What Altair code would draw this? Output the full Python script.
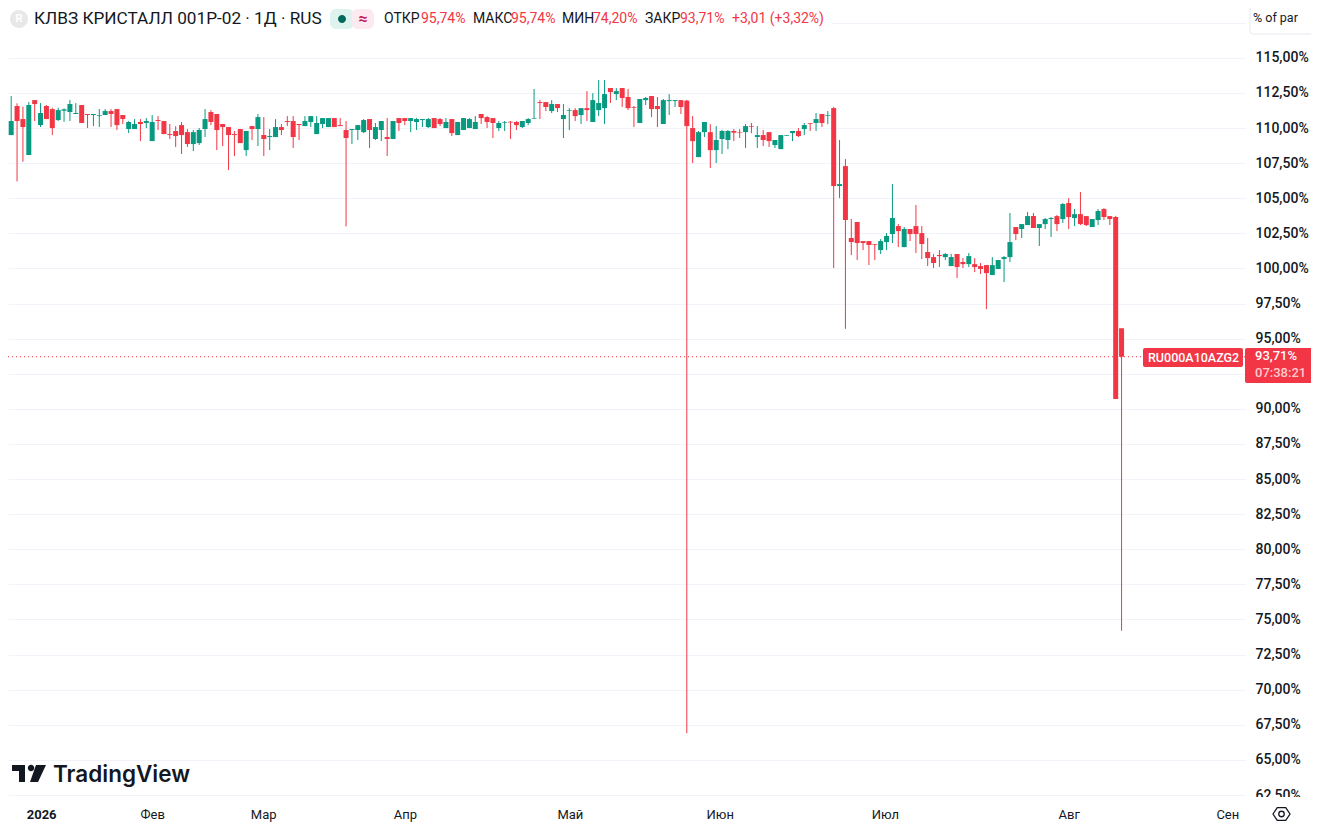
import altair as alt
import pandas as pd

high = [
112.35,112.28,111.76,111.52,111.85,111.99,111.78,111.64,111.45,111.45,
111.40,111.99,111.78,111.64,111.00,111.00,111.35,111.35,111.35,111.35,
110.93,110.50,110.64,110.64,110.71,110.93,110.85,110.50,110.29,110.14,
110.43,109.93,109.86,110.00,111.35,111.28,111.00,110.29,110.07,109.79,
109.93,109.79,110.14,111.00,110.78,109.93,110.64,110.29,110.85,110.85,
110.29,110.85,110.85,110.85,110.71,110.71,110.71,110.71,110.50,109.93,
110.21,110.64,110.64,110.36,110.50,110.71,110.50,110.71,110.71,110.71,
110.71,110.64,110.71,110.71,110.71,110.71,110.64,110.43,110.71,110.71,
110.85,111.00,110.85,110.71,110.50,110.50,110.50,110.50,110.50,110.71,
112.78,111.99,111.85,111.99,111.71,111.71,111.42,111.42,111.42,112.63,
112.49,113.42,113.42,112.85,112.85,112.85,112.78,111.57,112.07,112.21,
112.28,112.21,112.07,112.42,111.99,111.99,112.00,110.85,109.79,110.43,
110.28,110.14,109.86,109.86,109.93,109.93,110.28,110.36,110.14,109.86,
109.71,109.15,109.50,109.50,109.79,110.00,110.36,110.36,111.07,111.00,
111.21,111.50,109.15,107.79,103.52,103.31,101.95,101.95,101.74,102.09,
102.52,106.01,103.16,102.95,102.81,104.52,103.02,102.17,101.03,101.31,
101.10,101.03,101.03,100.74,101.10,100.74,100.39,100.24,100.81,100.60,
100.88,103.95,102.95,103.16,104.02,103.95,103.16,103.59,103.66,103.80,
104.66,105.01,104.23,105.44,103.73,103.52,104.23,104.30,103.73,103.75,
95.74]
low = [
110.05,109.50,106.20,107.60,108.08,110.50,110.07,110.64,109.50,110.50,
110.45,110.50,111.00,110.36,110.00,110.14,110.07,110.93,110.07,109.86,
110.29,109.64,109.93,109.07,110.00,109.07,109.86,109.57,109.22,108.65,
108.15,108.65,108.36,108.79,109.36,110.21,108.43,108.72,107.01,108.01,
108.93,108.01,109.15,108.72,108.01,108.43,109.36,109.50,110.14,108.58,
109.15,110.14,110.07,109.57,110.00,110.07,110.07,110.14,103.00,108.86,
109.15,109.64,108.58,109.15,109.07,108.01,109.22,109.79,110.21,109.71,
109.86,110.07,110.00,110.00,110.14,110.00,109.43,109.50,109.86,110.00,
109.93,110.29,110.00,109.29,109.79,109.79,109.22,109.86,110.00,110.21,
110.64,110.64,111.21,111.07,111.14,109.29,109.86,110.50,110.29,110.50,
110.43,110.85,110.29,111.78,111.99,111.50,111.28,110.07,110.36,111.64,
110.78,110.07,110.29,110.93,111.50,111.00,66.90,107.51,107.93,109.36,
107.15,107.51,108.15,108.50,109.07,109.29,108.58,109.64,108.58,108.72,
108.65,108.58,108.50,109.45,109.07,109.36,109.50,109.79,109.79,110.07,
110.28,100.03,105.01,95.70,100.95,100.60,101.31,100.24,100.60,101.03,
101.31,101.81,101.52,101.52,101.95,101.10,100.67,100.17,100.03,100.10,
100.60,100.17,99.32,100.03,100.10,99.74,99.60,97.11,99.53,99.96,
99.03,100.46,102.02,102.17,103.09,102.88,101.60,102.81,102.24,102.66,
103.23,102.81,103.02,103.09,103.02,102.95,103.09,103.45,103.09,90.70,
74.20]
body_top = [
110.93,110.50,111.57,110.64,111.64,111.99,111.07,111.57,111.35,111.28,
111.33,111.71,111.07,111.64,111.00,111.00,110.93,111.21,111.21,111.35,
110.93,110.43,110.29,110.43,110.50,110.43,110.57,110.50,109.57,109.79,
110.21,109.71,109.71,109.86,110.64,111.14,111.00,110.29,110.07,109.57,
109.93,109.79,110.14,110.78,109.50,109.43,110.07,110.07,110.50,110.50,
110.29,110.50,110.85,110.36,110.71,110.71,110.71,110.21,109.86,109.93,
110.21,110.57,110.64,110.07,110.50,109.36,110.50,110.71,110.71,110.71,
110.64,110.64,110.64,110.71,110.64,110.43,110.64,110.43,110.71,110.64,
110.43,111.00,110.78,110.71,110.36,110.43,110.45,110.43,110.50,110.64,
110.71,111.85,111.85,111.71,111.71,110.93,111.28,111.28,111.42,111.42,
111.99,111.78,112.42,112.85,112.63,112.85,112.21,111.50,112.07,112.14,
112.28,111.57,111.99,111.99,111.99,111.99,111.95,110.00,109.71,110.43,
109.71,109.15,109.79,109.79,109.79,109.71,110.14,110.14,109.50,109.50,
109.71,109.15,109.50,109.50,109.79,109.79,110.21,110.36,110.64,111.00,
110.93,111.42,106.01,107.29,102.17,103.31,101.95,101.95,101.74,101.95,
102.31,103.59,103.02,102.81,102.81,103.02,102.52,101.17,100.81,100.96,
101.03,100.81,101.03,100.46,100.88,100.31,100.17,100.24,100.24,100.60,
100.81,101.88,102.95,103.16,103.73,103.73,103.16,103.52,103.59,103.73,
104.59,104.66,103.87,103.87,103.73,103.52,104.09,104.23,103.73,103.66,
95.74]
body_bottom = [
110.64,109.50,110.50,110.07,108.08,111.71,110.21,110.64,110.00,110.57,
111.23,111.14,111.00,110.36,110.93,110.93,110.88,110.93,111.00,110.21,
110.64,109.93,109.93,110.29,110.36,109.07,110.50,109.57,109.50,109.43,
109.50,108.86,108.86,108.93,109.93,110.43,109.86,110.07,109.50,109.50,
108.93,108.43,109.93,109.93,109.22,109.36,109.36,109.86,110.43,109.36,
110.21,110.14,110.43,109.57,110.29,110.07,110.07,110.14,109.29,109.86,
109.86,109.71,109.86,109.22,109.86,109.22,109.22,110.36,110.50,110.50,
110.43,110.57,110.07,110.00,110.29,110.00,109.64,109.50,109.86,110.00,
109.93,110.71,110.43,110.36,110.00,110.38,110.40,110.21,110.07,110.36,
110.67,111.78,111.50,111.21,111.42,110.64,111.23,110.85,110.93,111.28,
110.43,111.28,111.42,112.56,112.42,112.14,111.42,111.45,110.36,111.99,
111.35,111.35,110.29,111.92,111.92,111.50,110.14,109.07,107.93,109.71,
108.43,108.43,109.22,109.15,109.67,109.67,109.71,110.09,109.36,109.15,
109.07,108.79,108.50,109.45,109.64,109.43,109.93,110.31,110.36,110.36,
110.88,105.87,105.87,103.45,101.88,101.81,101.81,101.67,101.69,101.31,
101.88,102.45,102.66,101.52,102.45,102.45,101.74,100.74,100.39,100.88,
100.81,100.17,100.10,100.31,100.31,100.10,99.96,99.67,99.53,99.96,
100.67,100.81,102.45,102.81,103.09,102.88,102.88,103.16,103.52,103.16,
103.52,103.66,103.59,103.16,103.09,102.95,103.45,103.66,103.52,90.70,
93.71]
direction = list(
"GGRRGRGRRG" "GGGRRGGGRR" "RGGRGGRRRR" "RRGGGRRRRR" "RGRGRGGRRR"
"RGGGGGRRRG" "GGRGGRGRRG" "GGGRRGRGGG" "GRRRGGRRGG" "GRRGRGGRGR"
"GGGRGRRRGG" "RRGGGRRRGG" "RGGGRRGRGR" "RGGGGRGRGR" "GRGRRRRRRG"
"GGRGRRRRRR" "GGRRGRRRGG" "GGRGGRGGGR" "GRGRRGGRRR" "R")

month_positions = [6.1, 25, 43.9, 68, 96.1, 121.6, 149.7, 181, 208]
month_labels = ["2026", "Фев", "Мар", "Апр", "Май", "Июн", "Июл", "Авг", "Сен"]
price_ticks = [62.5 + 2.5 * i for i in range(23)]
last_price = 93.71

GREEN = "#089981"
RED = "#F23645"
INK = "#131722"
FONT = "Roboto"
OX, OY = 8, 8  # page margin: reference pixel -> chart pixel

df = pd.DataFrame({"k": list(range(len(high))), "high": high, "low": low,
                   "top": body_top, "bottom": body_bottom, "dir": direction})

PW, PH = 1237, 787
x_scale = alt.Scale(domain=[0.46, 211.01], nice=False, zero=False, padding=0)
y_scale = alt.Scale(domain=[62.5, 118.55], nice=False, zero=False, padding=0)
color = alt.Color("dir:N", scale=alt.Scale(domain=["G", "R"], range=[GREEN, RED]), legend=None)

mapping = "{" + ",".join(f"'{p}':'{l}'" for p, l in zip(month_positions, month_labels)) + "}"
x_axis = alt.Axis(values=month_positions, title=None, grid=False, ticks=False, domain=False,
                  labelExpr=f"{mapping}[''+datum.value]", labelFont=FONT, labelFontSize=13,
                  labelColor=INK, labelPadding=19, labelOverlap=False, labelFlush=False,
                  labelFontWeight=alt.expr("datum.value==6.1?'bold':'normal'"), labelBaseline="middle")
y_axis = alt.Axis(values=price_ticks, tickCount=40, orient="right", title=None, ticks=False, domain=False,
                  grid=True, gridColor="#f0f3fa", gridWidth=1, labelPadding=10,
                  labelExpr="datum.value>116?'':replace(format(datum.value,'.2f'),'.',',')+'%'",
                  labelFont=FONT, labelFontSize=14, labelFontWeight=500, labelColor=INK,
                  labelOverlap=False, labelFlush=False, labelAlign="left")

wicks = alt.Chart(df).mark_rule(strokeWidth=1, clip=True).encode(
    x=alt.X("k:Q", scale=x_scale, axis=x_axis),
    y=alt.Y("low:Q", scale=y_scale, axis=y_axis), y2="high:Q", color=color)
bodies = alt.Chart(df).mark_bar(size=5, clip=True).encode(
    x=alt.X("k:Q", scale=x_scale), y=alt.Y("bottom:Q", scale=y_scale), y2="top:Q", color=color)
price_line = alt.Chart(pd.DataFrame({"p": [last_price]})).mark_rule(
    color=RED, strokeDash=[1, 3], strokeWidth=1).encode(y=alt.Y("p:Q", scale=y_scale))

def box(x0, x1, y0, y1, fill, radius=0, stroke=None):
    kw = {"fill": fill, "cornerRadius": radius}
    if stroke:
        kw.update(stroke=stroke, strokeWidth=1)
    return alt.Chart(pd.DataFrame({"a": [0]})).mark_rect(**kw).encode(
        x=alt.value(x0 - OX), x2=alt.value(x1 - OX), y=alt.value(y0 - OY), y2=alt.value(y1 - OY))

def label(text, x, y, color=INK, size=13, weight=400, align="left", font=FONT):
    return alt.Chart(pd.DataFrame({"t": [text]})).mark_text(
        align=align, baseline="middle", fontSize=size, fontWeight=weight, color=color, font=font
    ).encode(x=alt.value(x - OX), y=alt.value(y - OY), text="t:N")

def glyph(path, x, y, size, fill=None, stroke=None, sw=1.3):
    kw = {"shape": path, "size": size, "opacity": 1}
    if fill:
        kw.update(fill=fill, filled=True, strokeWidth=0)
    else:
        kw.update(filled=False, stroke=stroke, strokeWidth=sw)
    return alt.Chart(pd.DataFrame({"a": [0]})).mark_point(**kw).encode(
        x=alt.value(x - OX), y=alt.value(y - OY))

T_PATH = "M-1 -0.5H-0.235V0.5H-0.588V-0.147H-1Z"
DOT_PATH = "M-0.07 -0.324A0.19 0.19 0 1 0 0.31 -0.324A0.19 0.19 0 1 0 -0.07 -0.324Z"
SLASH_PATH = "M0.41 -0.5H1L0.53 0.5H0.06Z"
HEX_PATH = "M-1 0L-0.5 -0.75H0.5L1 0L0.5 0.75H-0.5Z"
RING_PATH = "M-1 0A1 1 0 1 0 1 0A1 1 0 1 0 -1 0Z"

decor = [
    box(8, 832, 8, 32, "#ffffff"),
    glyph(RING_PATH, 19, 19, 324, fill="#e8e8e8"),
    label("R", 19, 19, "#ffffff", 11, 700, "center"),
    label("КЛВЗ КРИСТАЛЛ 001Р-02 · 1Д · RUS", 34, 19, INK, 17.2),
    box(330, 354, 9, 29, "#def3ee", 6),
    box(352, 374, 9, 29, "#fdeaf0", 6),
    glyph(RING_PATH, 342, 19, 64, fill="#006b5a"),
    label("≈", 363, 19, "#c2185b", 16, 700, "center"),
    label("ОТКР", 384, 19, INK, 14), label("95,74%", 421, 19, RED, 14),
    label("МАКС", 473, 19, INK, 14), label("95,74%", 511, 19, RED, 14),
    label("МИН", 562, 19, INK, 14), label("74,20%", 593, 19, RED, 14),
    label("ЗАКР", 645, 19, INK, 14), label("93,71%", 680, 19, RED, 14),
    label("+3,01 (+3,32%)", 732, 19, RED, 14),
    box(1250, 1314, 5, 34, "#ffffff", 3, "#e6e8ee"),
    label("% of par", 1253, 18, INK, 12.5),
    box(1143, 1243, 348, 367, RED, 2),
    label("RU000A10AZG2", 1148, 358, "#ffffff", 12.5, 500),
    box(1245, 1313, 348, 383, RED, 2),
    label("93,71%", 1255, 356, "#ffffff", 13, 500),
    label("07:38:21", 1255, 373, "#ffc9ce", 13, 500),
    box(1245, 1319, 797, 822, "#ffffff"),
    glyph(HEX_PATH, 1281.5, 814, 289, stroke=INK),
    glyph(RING_PATH, 1281.5, 814, 30, stroke=INK),
    glyph(T_PATH, 29, 773.5, 1156, fill=INK),
    glyph(DOT_PATH, 29, 773.5, 1156, fill=INK),
    glyph(SLASH_PATH, 29, 773.5, 1156, fill=INK),
    label("TradingView", 53, 775, INK, 22.5, 600, font="Inter"),
]

chart = alt.layer(price_line, wicks, bodies, *decor).properties(
    width=PW, height=PH,
    autosize=alt.AutoSizeParams(type="none"),
    padding={"left": 0, "top": 0, "right": 66, "bottom": 27},
    background="#ffffff",
).configure_view(strokeWidth=0)

chart.save("out.html", embed_options={"renderer": "svg", "actions": False})
